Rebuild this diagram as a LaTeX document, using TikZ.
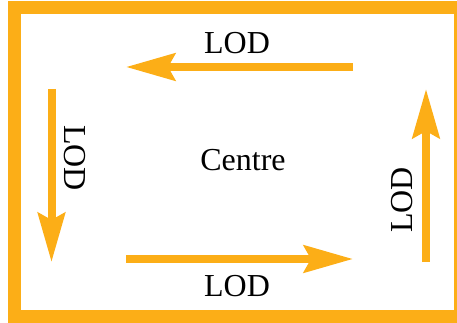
\documentclass[tikz,border=0pt]{standalone}
\usepackage{fontspec}
\setmainfont{Liberation Serif}
\usetikzlibrary{arrows.meta}
\definecolor{lodorange}{RGB}{252,174,23}

\begin{document}
\begin{tikzpicture}[x=1pt, y=-1pt,
    every node/.style={font=\fontsize{32}{32}\selectfont, inner sep=0pt},
    lodarrow/.style={draw=lodorange, line width=8pt,
      -{Stealth[length=49pt, width=27pt, inset=7pt]}}]
    \useasboundingbox (0,0) rectangle (457,323);

    % Frame
    \draw[lodorange, line width=13pt] (14.5,7.5) rectangle (460.5,316.5);

    % Centre
    \node (centre) at (243,160) {Centre};

    % Top arrow
    \coordinate (top start) at (353,67);
    \coordinate (top end) at (126,67);
    \draw[lodarrow] (top start) -- (top end);
    \node (top lod) at (237,43) {LOD};

    % Left arrow
    \coordinate (left start) at (51.5,89);
    \coordinate (left end) at (51.5,262);
    \draw[lodarrow] (left start) -- (left end);
    \node[rotate=-90] (left lod) at (75,158) {LOD};

    % Bottom arrow
    \coordinate (bottom start) at (126,259);
    \coordinate (bottom end) at (353,259);
    \draw[lodarrow] (bottom start) -- (bottom end);
    \node (bottom lod) at (237,286) {LOD};

    % Right arrow
    \coordinate (right start) at (426,262);
    \coordinate (right end) at (426,89);
    \draw[lodarrow] (right start) -- (right end);
    \node[rotate=90] (right lod) at (402,200) {LOD};

  \end{tikzpicture}
\end{document}
